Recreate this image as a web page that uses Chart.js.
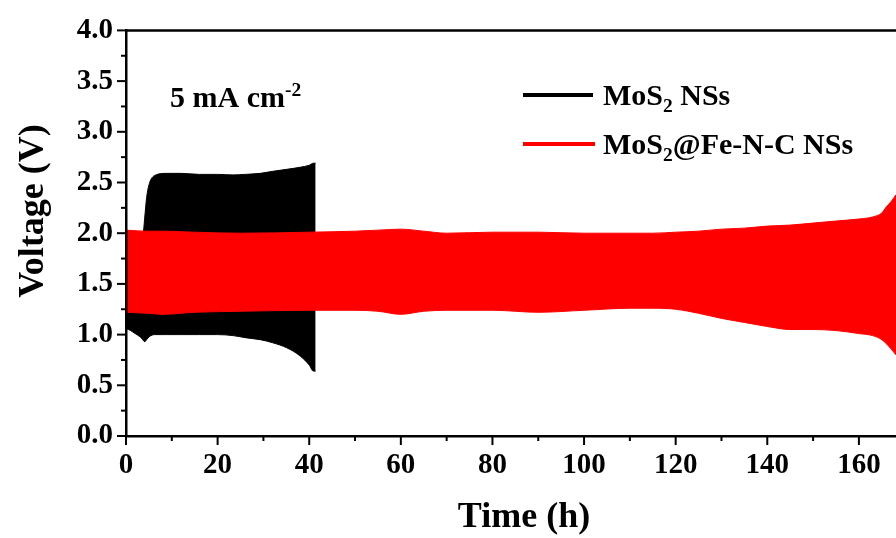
<!DOCTYPE html>
<html><head><meta charset="utf-8">
<script src="https://cdn.jsdelivr.net/npm/chart.js@4.4.0/dist/chart.umd.min.js"></script>
<style>html,body{margin:0;padding:0;background:#fff;}#wrap{width:896px;height:538px;position:relative;}</style>
</head><body><div id="wrap"><canvas id="c" width="896" height="538"></canvas></div>
<script>
// ---- data (time in h, voltage in V) ----
const blackTime  = [0, 1, 2, 3, 3.5, 3.8, 4.1, 4.5, 5.1, 6.3, 8.9, 12, 16, 20, 23.4, 26, 29.3, 32, 35.1, 38, 40, 40.9, 41.4];
const blackUpper = [2.0, 2.0, 2.0, 2.0, 2.0, 2.02, 2.16, 2.35, 2.49, 2.57, 2.59, 2.59, 2.58, 2.58, 2.575, 2.58, 2.59, 2.61, 2.63, 2.65, 2.67, 2.69, 2.69];
const blackLower = [1.06, 1.04, 1.01, 0.98, 0.96, 0.94, 0.93, 0.95, 0.98, 1.0, 1.0, 1.0, 1.0, 1.0, 0.99, 0.97, 0.95, 0.92, 0.87, 0.79, 0.70, 0.64, 0.64];

const redTime  = [0, 5, 8, 15, 25, 40, 50, 55, 60, 65, 70, 80, 90, 100, 110, 115, 120, 125, 130, 135, 140, 145, 150, 155, 160, 163, 165, 166, 167, 168.1];
const redUpper = [2.03, 2.02, 2.02, 2.01, 2.0, 2.01, 2.02, 2.03, 2.04, 2.02, 2.0, 2.01, 2.01, 2.0, 2.0, 2.0, 2.01, 2.02, 2.04, 2.05, 2.07, 2.08, 2.1, 2.12, 2.14, 2.16, 2.2, 2.26, 2.31, 2.38];
const redLower = [1.22, 1.21, 1.20, 1.22, 1.23, 1.24, 1.24, 1.23, 1.20, 1.23, 1.24, 1.24, 1.22, 1.24, 1.26, 1.26, 1.25, 1.21, 1.16, 1.12, 1.08, 1.05, 1.05, 1.04, 1.01, 0.99, 0.95, 0.91, 0.86, 0.80];

const xTicks = [0, 20, 40, 60, 80, 100, 120, 140, 160];
const yTicks = [0, 0.5, 1.0, 1.5, 2.0, 2.5, 3.0, 3.5, 4.0];
const xMinorTicks = [10, 30, 50, 70, 90, 110, 130, 150];
const yMinorTicks = [0.25, 0.75, 1.25, 1.75, 2.25, 2.75, 3.25, 3.75];
const seriesNames = ['MoS', 'MoS'];
const seriesColors = ['#000000', '#ff0000'];

const pts = (xs, ys) => xs.map((x, i) => ({x: x, y: ys[i]}));
const FONT = '"Liberation Serif", "Times New Roman", serif';

const base = {pointRadius: 0, borderWidth: 1, cubicInterpolationMode: 'monotone', tension: 0.3};

const extras = {
  id: 'extras',
  afterDraw(chart) {
    const ctx = chart.ctx, a = chart.chartArea;
    const xs = chart.scales.x, ys = chart.scales.y;
    ctx.save();
    ctx.strokeStyle = '#000'; ctx.fillStyle = '#000';
    // top frame line
    ctx.lineWidth = 2.5;
    ctx.beginPath(); ctx.moveTo(a.left - 1, a.top); ctx.lineTo(a.right, a.top); ctx.stroke();
    // ticks
    ctx.lineWidth = 2;
    const tick = (x1, y1, x2, y2) => { ctx.beginPath(); ctx.moveTo(x1, y1); ctx.lineTo(x2, y2); ctx.stroke(); };
    yTicks.forEach(v => { const p = ys.getPixelForValue(v); tick(a.left - 9, p, a.left, p); });
    yMinorTicks.forEach(v => { const p = ys.getPixelForValue(v); tick(a.left - 5, p, a.left, p); });
    xTicks.forEach(v => { const p = xs.getPixelForValue(v); tick(p, a.bottom, p, a.bottom + 9); });
    xMinorTicks.forEach(v => { const p = xs.getPixelForValue(v); tick(p, a.bottom, p, a.bottom + 5); });

    // helper to draw text with sub/superscripts
    const drawRich = (parts, x, y, size) => {
      let cx = x;
      parts.forEach(p => {
        const s = p.sub || p.sup ? size * 0.65 : size;
        ctx.font = 'bold ' + s + 'px ' + FONT;
        const dy = p.sub ? size * 0.22 : (p.sup ? -size * 0.38 : 0);
        ctx.fillText(p.t, cx, y + dy);
        cx += ctx.measureText(p.t).width;
      });
    };
    ctx.textAlign = 'left'; ctx.textBaseline = 'alphabetic';
    // annotation
    drawRich([{t: '5 mA cm'}, {t: '-2', sup: true}], 170, 107, 30);
    // legend
    ctx.lineWidth = 4;
    ctx.strokeStyle = seriesColors[0];
    tick(523, 95, 593, 95);
    ctx.strokeStyle = seriesColors[1];
    tick(523, 144, 595, 144);
    ctx.fillStyle = '#000';
    drawRich([{t: 'MoS'}, {t: '2', sub: true}, {t: ' NSs'}], 603, 105, 30);
    drawRich([{t: 'MoS'}, {t: '2', sub: true}, {t: '@Fe-N-C NSs'}], 603, 154, 30);
    // axis titles
    ctx.font = 'bold 36px ' + FONT;
    ctx.textAlign = 'center';
    ctx.fillText('Time (h)', 524, 527);
    ctx.translate(43, 211);
    ctx.rotate(-Math.PI / 2);
    ctx.fillText('Voltage (V)', 0, 0);
    ctx.restore();
  }
};

new Chart(document.getElementById('c'), {
  type: 'line',
  data: {
    datasets: [
      Object.assign({label: 'MoS2 NSs upper', data: pts(blackTime, blackUpper), borderColor: seriesColors[0], backgroundColor: seriesColors[0], fill: false, order: 1}, base),
      Object.assign({label: 'MoS2 NSs lower', data: pts(blackTime, blackLower), borderColor: seriesColors[0], backgroundColor: seriesColors[0], fill: '-1', order: 1}, base),
      Object.assign({label: 'MoS2@Fe-N-C NSs upper', data: pts(redTime, redUpper), borderColor: seriesColors[1], backgroundColor: seriesColors[1], fill: false, order: 0}, base),
      Object.assign({label: 'MoS2@Fe-N-C NSs lower', data: pts(redTime, redLower), borderColor: seriesColors[1], backgroundColor: seriesColors[1], fill: '-1', order: 0}, base)
    ]
  },
  options: {
    responsive: false,
    animation: false,
    devicePixelRatio: 1,
    layout: {padding: {top: 24, right: 0, left: 0, bottom: 0}},
    plugins: {legend: {display: false}, tooltip: {enabled: false}},
    scales: {
      x: {
        type: 'linear', min: 0, max: 168.1,
        afterBuildTicks: s => { s.ticks = xTicks.map(v => ({value: v})); },
        afterFit: s => { s.height = 102; },
        grid: {display: true, drawOnChartArea: false, drawTicks: false},
        border: {display: true, color: '#000', width: 2.5, z: 1},
        ticks: {color: '#000', font: {family: FONT, weight: 'bold', size: 29}, padding: 12, maxRotation: 0, autoSkip: false}
      },
      y: {
        type: 'linear', min: 0, max: 4,
        afterBuildTicks: s => { s.ticks = yTicks.map(v => ({value: v})); },
        afterFit: s => { s.width = 126; },
        grid: {display: true, drawOnChartArea: false, drawTicks: false},
        border: {display: true, color: '#000', width: 2.5, z: 1},
        ticks: {color: '#000', font: {family: FONT, weight: 'bold', size: 29}, padding: 13, callback: v => Number(v).toFixed(1)}
      }
    }
  },
  plugins: [extras]
});
</script></body></html>
